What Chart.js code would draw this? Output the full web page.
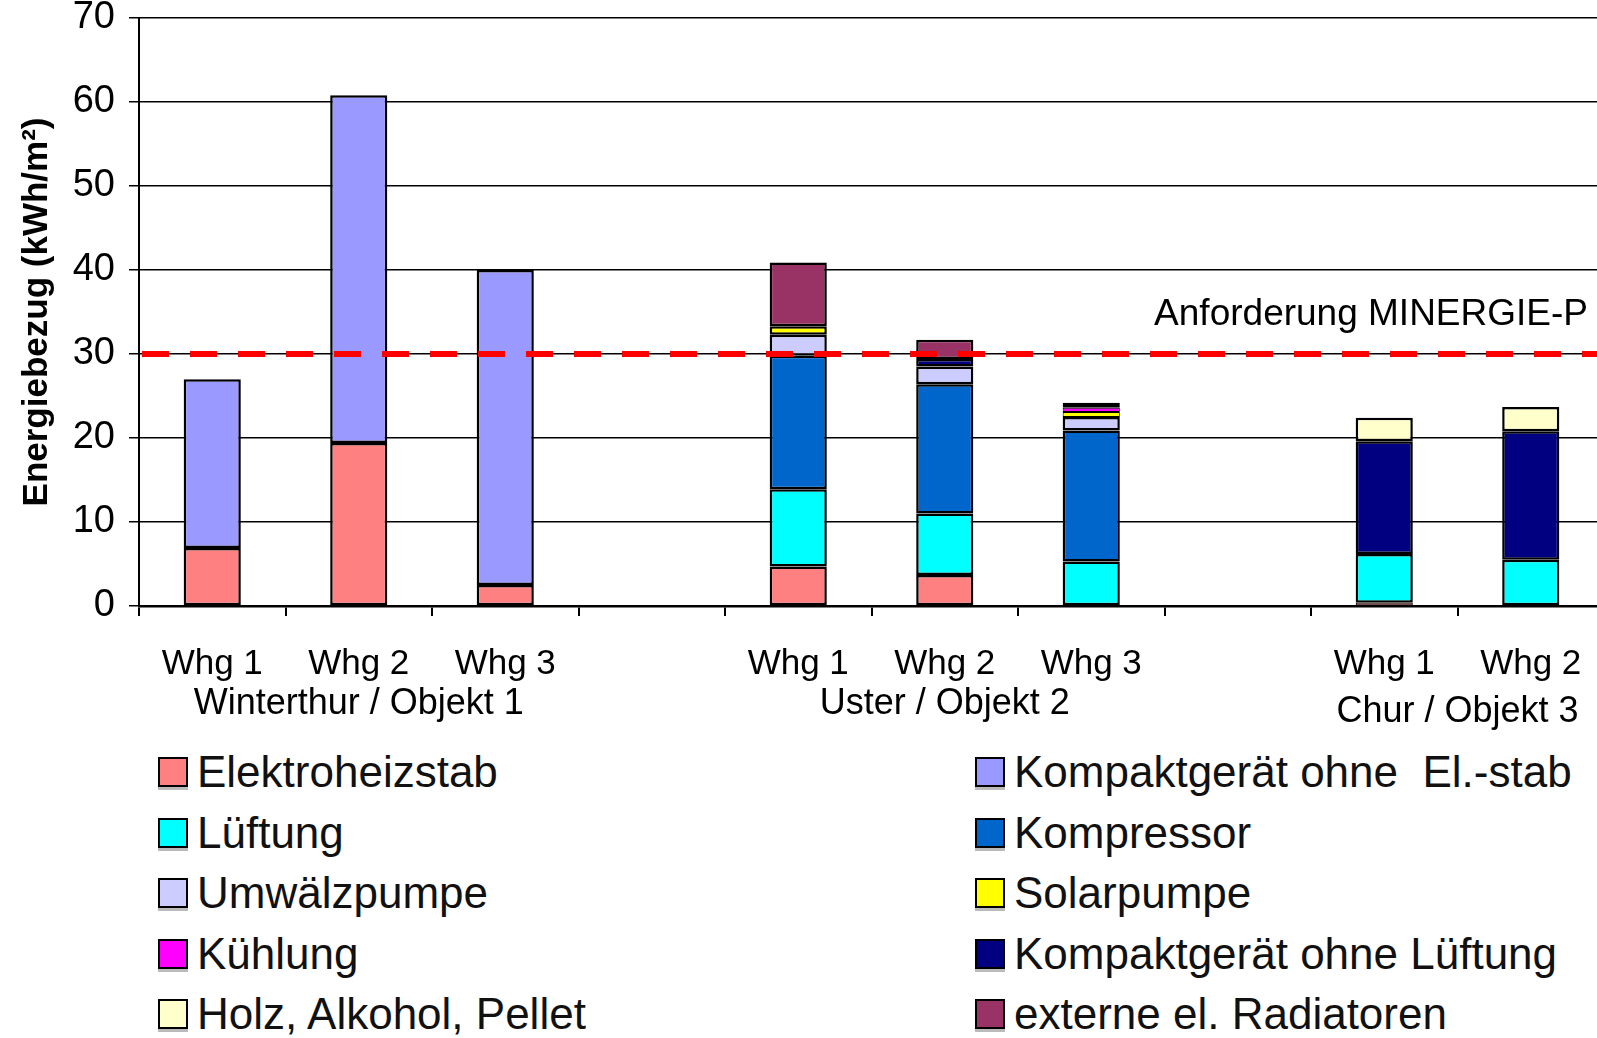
<!DOCTYPE html>
<html>
<head>
<meta charset="utf-8">
<script src="https://cdn.jsdelivr.net/npm/chart.js@4.4.1/dist/chart.umd.min.js"></script>
<style>
  html, body { margin: 0; padding: 0; background: #fff; overflow: hidden; }
  #wrap { position: relative; width: 1597px; height: 1038px; overflow: hidden; }
  #chart { position: absolute; left: 0; top: 0; }
  .lg-item { position: absolute; display: flex; align-items: center; height: 50px;
             font-family: "Liberation Sans", Arial, sans-serif; font-size: 44px; color: #111; white-space: pre; }
  .lg-box { width: 26px; height: 26px; border: 2px solid #000; margin-right: 9px; box-shadow: 0 3px 0 #bbb; }
</style>
</head>
<body>
<div id="wrap">
  <canvas id="chart" width="1604" height="730"></canvas>
  <div id="legend"></div>
</div>
<script>
const categories = ['Whg 1', 'Whg 2', 'Whg 3', '', 'Whg 1', 'Whg 2', 'Whg 3', '', 'Whg 1', 'Whg 2'];

const groupLabels = ['Winterthur / Objekt 1', 'Uster / Objekt 2', 'Chur / Objekt 3'];
const groupFirst = [0, 4, 8];
const groupLast = [2, 6, 9];

// kWh/m2 per apartment, stacked bottom to top in this order
const elektroheizstab     = [6.9, 19.4, 2.5, null, 4.7, 3.7, null, null, 0.4, null];
const kompaktOhneElStab   = [20.1, 41.4, 37.5, null, null, null, null, null, null, null];
const lueftung            = [null, null, null, null, 9.2, 7.3, 5.3, null, 5.8, 5.5];
const kompressor          = [null, null, null, null, 15.9, 15.4, 15.6, null, null, null];
const umwaelzpumpe        = [null, null, null, null, 2.5, 2.1, 1.6, null, null, null];
const solarpumpe          = [null, null, null, null, 1.0, null, 0.6, null, null, null];
const kuehlung            = [null, null, null, null, null, null, 0.5, null, null, null];
const kompaktOhneLueftung = [null, null, null, null, null, 0.9, 0.6, null, 13.4, 15.3];
const holzAlkoholPellet   = [null, null, null, null, null, null, null, null, 2.8, 2.9];
const externeRadiatoren   = [null, null, null, null, 7.6, 2.3, null, null, null, null];

const seriesNames = ['Elektroheizstab', 'Kompaktgerät ohne  El.-stab', 'Lüftung', 'Kompressor',
  'Umwälzpumpe', 'Solarpumpe', 'Kühlung', 'Kompaktgerät ohne Lüftung', 'Holz, Alkohol, Pellet', 'externe el. Radiatoren'];
const seriesValues = [elektroheizstab, kompaktOhneElStab, lueftung, kompressor, umwaelzpumpe,
  solarpumpe, kuehlung, kompaktOhneLueftung, holzAlkoholPellet, externeRadiatoren];
const seriesColors = ['#FF8080', '#9999FF', '#00FFFF', '#0066CC', '#CCCCFF',
  '#FFFF00', '#FF00FF', '#000080', '#FFFFCC', '#993366'];

const yTicks = [0, 10, 20, 30, 40, 50, 60, 70];
const limitValue = 30;
const limitLabel = 'Anforderung MINERGIE-P';

const FONT = '"Liberation Sans", Arial, sans-serif';

const limitLine = {
    id: 'limitLine',
    afterDatasetsDraw(chart) {
        const { ctx, chartArea } = chart;
        const y = chart.scales.y.getPixelForValue(limitValue);
        ctx.save();
        ctx.strokeStyle = '#FF0000';
        ctx.lineWidth = 6;
        ctx.setLineDash([27, 21]);
        ctx.lineDashOffset = -3;
        ctx.beginPath();
        ctx.moveTo(chartArea.left, y);
        ctx.lineTo(chartArea.right, y);
        ctx.stroke();
        ctx.setLineDash([]);
        ctx.fillStyle = '#000';
        ctx.font = '37px ' + FONT;
        ctx.textAlign = 'right';
        ctx.textBaseline = 'alphabetic';
        ctx.fillText(limitLabel, 1588, y - 29);
        ctx.restore();
    }
};

const groupAxis = {
    id: 'groupAxis',
    afterDraw(chart) {
        const { ctx } = chart;
        const x = chart.scales.x;
        ctx.save();
        ctx.fillStyle = '#000';
        ctx.font = '36px ' + FONT;
        ctx.textAlign = 'center';
        ctx.textBaseline = 'middle';
        groupLabels.forEach((label, i) => {
            const cx = (x.getPixelForValue(groupFirst[i]) + x.getPixelForValue(groupLast[i])) / 2;
            const cy = groupLast[i] - groupFirst[i] < 2 ? 712 : 704;
            ctx.fillText(label, cx, cy);
        });
        ctx.restore();
    }
};

new Chart(document.getElementById('chart'), {
    type: 'bar',
    data: {
        labels: categories,
        datasets: seriesNames.map((name, i) => ({
            label: name,
            data: seriesValues[i],
            backgroundColor: seriesColors[i],
            borderColor: '#000',
            borderWidth: c => (c.raw !== null && c.raw < 0.7 && i !== 7 ? 1 : 2.5),
            borderSkipped: false,
            barPercentage: 0.39,
            categoryPercentage: 1.0
        }))
    },
    options: {
        responsive: false,
        animation: false,
        devicePixelRatio: 1,
        layout: { padding: { top: 18, right: 0, bottom: 0, left: 0 } },
        plugins: { legend: { display: false }, tooltip: { enabled: false } },
        scales: {
            x: {
                stacked: true,
                grid: { drawOnChartArea: false, drawTicks: true, tickLength: 10, color: '#000', lineWidth: 2 },
                border: { color: '#000', width: 2.5 },
                ticks: { color: '#000', font: { family: FONT, size: 35 }, padding: 27, maxRotation: 0, autoSkip: false },
                afterFit(scale) { scale.height = 124; scale.paddingLeft = 0; scale.paddingRight = 0; }
            },
            y: {
                stacked: true,
                min: 0,
                max: 70,
                afterBuildTicks(scale) { scale.ticks = yTicks.map(v => ({ value: v })); },
                grid: { color: '#000', lineWidth: 1.5, tickLength: 10 },
                border: { color: '#000', width: 2 },
                ticks: { color: '#000', font: { family: FONT, size: 38 }, padding: 14 },
                title: {
                    display: true,
                    text: 'Energiebezug (kWh/m²)',
                    color: '#000',
                    font: { family: FONT, size: 35, weight: 'bold' },
                    padding: { top: 16, bottom: 0 }
                },
                afterFit(scale) { scale.width = 139; scale.paddingTop = 0; scale.paddingBottom = 0; }
            }
        }
    },
    plugins: [limitLine, groupAxis]
});

// legend: two columns, row-major in series order
const legend = document.getElementById('legend');
seriesNames.forEach((name, i) => {
    const item = document.createElement('div');
    item.className = 'lg-item';
    item.style.left = (i % 2 === 0 ? 158 : 975) + 'px';
    item.style.top = (772 - 25 + Math.floor(i / 2) * 60.5) + 'px';
    item.innerHTML = `<span class="lg-box" style="background:${seriesColors[i]}"></span>${name}`;
    legend.appendChild(item);
});
</script>
</body>
</html>
